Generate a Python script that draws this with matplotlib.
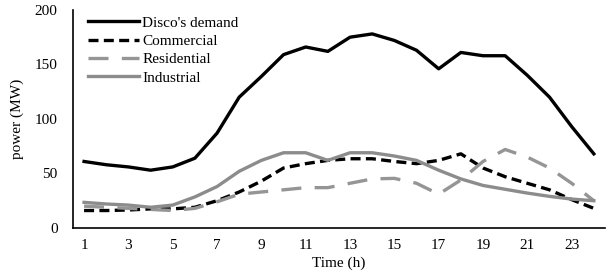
import numpy as np
import matplotlib.pyplot as plt

plt.rcParams['font.family'] = ['Liberation Serif', 'DejaVu Serif']

hours = np.arange(1, 25)
disco = [61, 58, 56, 53, 56, 64, 87, 120, 139, 159, 166, 162,
         175, 178, 172, 163, 146, 161, 158, 158, 140, 120, 93, 68]
commercial = [16, 16, 16.5, 17.5, 17.5, 19, 25, 33, 43, 55, 59, 62,
              63.5, 63.5, 61, 59, 62, 68, 55, 47, 41, 35, 26, 18]
residential = [20, 19, 18, 17, 16, 18, 24, 31, 33, 35, 37, 37,
               41, 45, 45.5, 41, 31, 44, 61, 72, 65, 55, 41, 25]
industrial = [23.5, 22, 21, 19, 21, 28.5, 38, 52, 62, 69, 69, 62,
              69, 69, 66, 62, 53, 45, 39, 35.5, 32, 29, 26.5, 25]

fs = 11
fig = plt.figure(figsize=(6.16, 2.76), dpi=100)
ax = fig.add_axes([0.1185, 0.174, 0.8635, 0.79])

ax.plot(hours, disco, color='black', lw=2.4, label="Disco's demand")
ax.plot(hours, commercial, color='black', lw=2.4, dashes=(3, 1.6), label='Commercial')
ax.plot(hours, residential, color='#959595', lw=2.4, dashes=(6, 4), label='Residential')
ax.plot(hours, industrial, color='#8c8c8c', lw=2.4, label='Industrial')

ax.set_xlim(0.5, 24.5)
ax.set_ylim(0, 200)
ax.set_xticks(np.arange(1, 24, 2))
ax.set_yticks(np.arange(0, 201, 50))
ax.tick_params(length=0, labelsize=fs)
ax.tick_params(axis='x', pad=8)
ax.tick_params(axis='y', pad=11)
for s in ['top', 'right']:
    ax.spines[s].set_visible(False)
ax.spines['left'].set_linewidth(1.2)
ax.spines['bottom'].set_linewidth(1.2)

ax.set_xlabel('Time (h)', fontsize=fs, labelpad=3)
ax.set_ylabel('power (MW)', fontsize=fs, labelpad=8)

ax.legend(loc='upper left', bbox_to_anchor=(0.017, 1.0), frameon=False,
          fontsize=fs, handlelength=3.3, handletextpad=0.25,
          labelspacing=0.3, borderaxespad=0)

fig.savefig('out.png', dpi=100)
